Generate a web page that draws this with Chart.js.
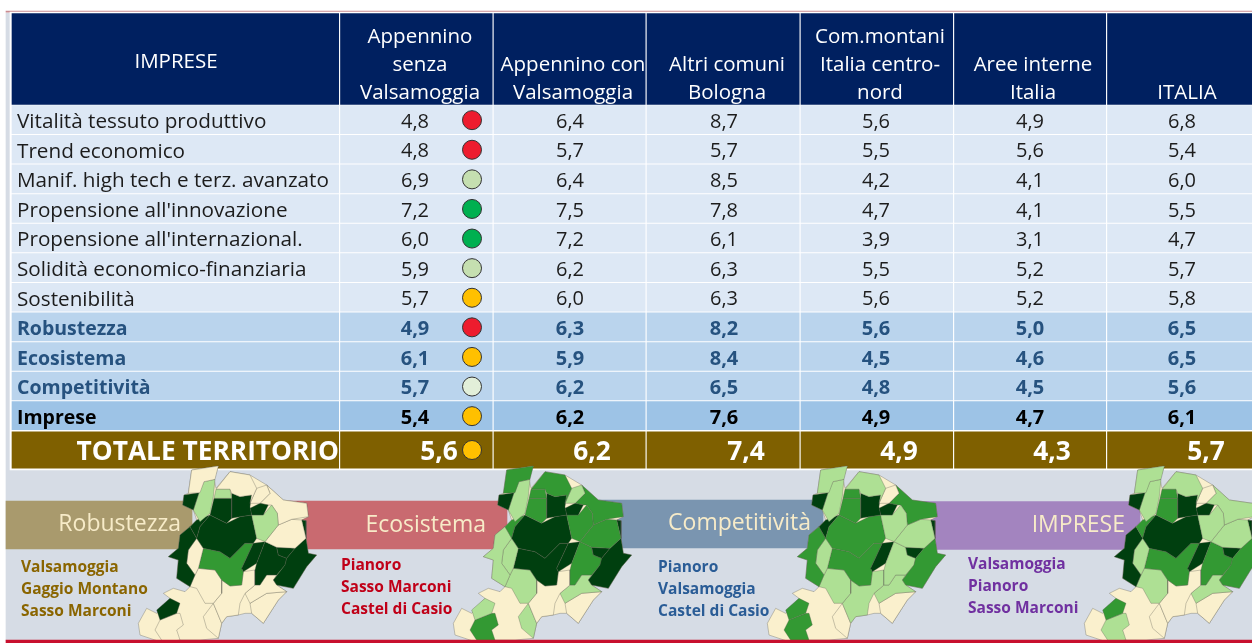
<!DOCTYPE html>
<html lang="it">
<head>
<meta charset="utf-8">
<title>Imprese</title>
<script src="https://cdn.jsdelivr.net/npm/chart.js@4"></script>
<style>
  html, body { margin: 0; padding: 0; background: #fff; }
  canvas { display: block; }
</style>
</head>
<body>
<canvas id="board" width="1252" height="643"></canvas>
<script>
// --- data ---
const corner = 'IMPRESE';
const columns = [
  ['Appennino', 'senza', 'Valsamoggia'],
  ['Appennino con', 'Valsamoggia'],
  ['Altri comuni', 'Bologna'],
  ['Com.montani', 'Italia centro-', 'nord'],
  ['Aree interne', 'Italia'],
  ['ITALIA'],
];
const rows = [
  'Vitalità tessuto produttivo', 'Trend economico', 'Manif. high tech e terz. avanzato',
  "Propensione all'innovazione", "Propensione all'internazional.", 'Solidità economico-finanziaria',
  'Sostenibilità', 'Robustezza', 'Ecosistema', 'Competitività', 'Imprese', 'TOTALE TERRITORIO',
];
const appenninoSenza = [4.8, 4.8, 6.9, 7.2, 6.0, 5.9, 5.7, 4.9, 6.1, 5.7, 5.4, 5.6];
const appenninoCon   = [6.4, 5.7, 6.4, 7.5, 7.2, 6.2, 6.0, 6.3, 5.9, 6.2, 6.2, 6.2];
const altriBologna   = [8.7, 5.7, 8.5, 7.8, 6.1, 6.3, 6.3, 8.2, 8.4, 6.5, 7.6, 7.4];
const comMontani     = [5.6, 5.5, 4.2, 4.7, 3.9, 5.5, 5.6, 5.6, 4.5, 4.8, 4.9, 4.9];
const areeInterne    = [4.9, 5.6, 4.1, 4.1, 3.1, 5.2, 5.2, 5.0, 4.6, 4.5, 4.7, 4.3];
const italia         = [6.8, 5.4, 6.0, 5.5, 4.7, 5.7, 5.8, 6.5, 6.5, 5.6, 6.1, 5.7];
const series = [appenninoSenza, appenninoCon, altriBologna, comMontani, areeInterne, italia];
const signals = ['red', 'red', 'sage', 'green', 'green', 'sage', 'amber', 'red', 'amber', 'pale', 'amber', 'amber'];

const bannerTitles = ['Robustezza', 'Ecosistema', 'Competitività', 'IMPRESE'];
const bannerLists = [
  ['Valsamoggia', 'Gaggio Montano', 'Sasso Marconi'],
  ['Pianoro', 'Sasso Marconi', 'Castel di Casio'],
  ['Pianoro', 'Valsamoggia', 'Castel di Casio'],
  ['Valsamoggia', 'Pianoro', 'Sasso Marconi'],
];

// map regions: outline, tone per map (d m l c = dark to cream)
const mapOutline = [575,30, 655,18, 642,58, 648,85, 690,35, 750,45, 800,75, 850,120, 920,130, 925,170, 905,180, 918,182, 918,235, 925,280, 950,285, 920,320, 880,385, 830,375, 860,395, 835,420, 790,490, 755,460, 735,460, 715,465, 680,470, 665,490, 655,535, 600,540, 540,540, 490,548, 465,540, 420,525, 415,490, 440,445, 470,460, 510,415, 490,400, 520,385, 555,395, 570,380, 530,355, 535,300, 505,290, 535,265, 540,225, 570,200, 590,180, 580,150, 548,135, 552,105, 565,100];
const mapRegions = [
  ['cmll', [575,30, 655,18, 645,58, 612,65, 600,98, 565,100]],
  ['dddd', [552,105, 597,98, 580,150, 548,135]],
  ['llll', [612,65, 645,58, 640,110, 630,160, 600,185, 580,150, 597,98]],
  ['lmmm', [648,88, 690,88, 695,115, 642,115]],
  ['cmll', [648,88, 690,35, 750,45, 770,85, 750,130, 755,105, 720,110, 695,100, 690,88]],
  ['clcc', [770,85, 800,75, 810,100, 780,130, 750,130]],
  ['dmmm', [642,115, 695,115, 695,175, 680,190, 630,165]],
  ['dddd', [695,100, 720,110, 755,105, 750,140, 755,165, 720,170, 695,175]],
  ['dddd', [750,145, 780,130, 805,135, 790,165, 755,165]],
  ['lmll', [755,165, 790,165, 815,135, 832,160, 835,195, 795,245, 770,235]],
  ['cmml', [800,75, 850,120, 920,130, 925,170, 875,178, 835,195, 832,160, 815,135, 805,135, 780,130, 810,100]],
  ['cmll', [835,195, 875,178, 905,180, 918,235, 885,265, 830,262, 795,245]],
  ['dddd', [905,180, 918,182, 918,235]],
  ['ddmm', [885,265, 918,235, 925,280, 950,285, 920,320, 880,385, 830,375, 820,360, 855,315, 860,295]],
  ['dddd', [830,262, 885,265, 860,295, 835,285]],
  ['dmlm', [795,245, 830,262, 835,285, 860,295, 855,315, 830,345, 800,345, 780,375, 765,375, 765,330, 770,310]],
  ['dddd', [760,250, 795,245, 770,310, 730,335, 725,325]],
  ['llll', [845,290, 860,295, 855,330, 830,345]],
  ['ddmd', [630,165, 680,190, 720,170, 755,165, 770,235, 760,250, 735,250, 690,295, 660,275, 635,270, 610,265, 590,235, 600,200]],
  ['dmdm', [570,200, 590,180, 630,165, 600,200, 590,235]],
  ['dlmd', [540,225, 570,200, 590,235, 565,270, 560,310, 585,345, 570,380, 530,355, 535,300, 505,290, 535,265]],
  ['clll', [590,235, 610,265, 595,325, 585,345, 560,310, 565,270]],
  ['mdmm', [610,265, 635,270, 660,275, 690,295, 735,250, 760,250, 725,325, 730,335, 725,375, 690,378, 665,360, 645,330, 595,325]],
  ['clll', [570,380, 585,345, 595,325, 645,330, 665,360, 665,400, 640,430, 615,430, 590,385]],
  ['cclc', [665,360, 690,378, 725,375, 730,335, 765,330, 765,375, 735,400, 720,430, 715,465, 680,470, 665,490, 640,430, 665,400]],
  ['clll', [765,375, 780,375, 800,345, 830,345, 820,360, 830,375, 860,395, 800,400, 750,430, 735,400]],
  ['cccc', [750,430, 800,400, 860,395, 835,420, 790,490, 755,460]],
  ['dlmm', [470,450, 510,415, 540,430, 530,460, 480,480]],
  ['cmml', [465,510, 480,480, 530,460, 540,460, 550,495, 530,510, 540,540, 490,548]],
  ['clcc', [610,470, 640,430, 665,490, 655,535, 620,505]],
];

// --- layout, in canvas units ---
const colEdges = [12, 340.5, 494, 647, 801, 954.5, 1107.5, 1254];
const headerCentres = [420, 573, 727, 880, 1033, 1187];
const valueCentres = [415, 570, 724, 876, 1030, 1182];
const totalCentres = [439, 592, 746, 899, 1052, 1206];
const dotX = 472;
const rowTop = 105.7, rowPitch = 29.6, rowGap = 1.7;
const rowCentre = i => rowTop + rowPitch * i + (rowPitch - rowGap) / 2;
const totalCentre = 450, totalHeight = 36.5;
const headerCentre = 59, headerHeight = 91;
const rowFills = i => i < 7 ? '#dde8f5' : i < 10 ? '#bad4ed' : '#9dc3e6';
const rowInk = i => i < 7 ? '#1c1c1c' : i < 10 ? '#26527f' : '#000';
const signalFill = { red: '#ed1c2e', sage: '#c5dfb0', green: '#00b050', amber: '#ffc000', pale: '#e2efd9' };
const tones = { d: '#003f0f', m: '#339933', l: '#aee094', c: '#faf0cd' };
const bannerSpans = [[6, 192, 525, '#a99a6d'], [283, 507, 525, '#c96a70'], [597, 823, 524, '#7a95b0'], [914, 1140, 525.5, '#a384bf']];
const bannerText = [[181, 524], [486, 525], [811, 523], [1125, 525]];
const listStart = [[21, 568, '#8a6500'], [341, 566, '#c00018'], [658, 567.5, '#2a5c96'], [968, 565, '#7030a0']];
const mapShift = [0, 315, 629, 946];
const FONT = '"Open Sans", "Noto Sans", sans-serif';

const bar = (points, color, thickness, order) => ({
  type: 'bar', indexAxis: 'y', stack: 'cells', data: points, backgroundColor: color,
  barThickness: thickness, borderWidth: 0, order,
});
const toPoints = (flat, dx) => {
  const pts = [];
  for (let i = 0; i < flat.length; i += 2) pts.push({ x: flat[i] / 3 + dx, y: flat[i + 1] / 3 + 460 });
  pts.push(pts[0]);
  return pts;
};
const poly = (flat, dx, color, order) => ({
  type: 'scatter', showLine: true, fill: 'shape', tension: 0, data: toPoints(flat, dx),
  backgroundColor: color, borderColor: 'rgba(90,90,80,.55)', borderWidth: 0.6, pointRadius: 0, order,
});

const colSpans = colEdges.slice(0, -1).map((a, i) => [a, colEdges[i + 1] - 1.8]);
const rowCells = y => colSpans.map(s => ({ x: s, y }));

const datasets = [
  bar([{ x: [6, 1252], y: 327 }], '#d6dce5', 628, 90),
  bar([{ x: [6, 1252], y: 11.7 }], '#c98b90', 1, 85),
  bar([{ x: [10, 1252], y: 241 }], '#ffffff', 458, 80),
  bar([{ x: [6, 1252], y: 641.5 }], '#c8102e', 3, 5),
  bar(rowCells(headerCentre), '#002060', headerHeight, 70),
  bar(rowCells(totalCentre), '#7f6000', totalHeight, 70),
];
rows.slice(0, 11).forEach((_, i) => datasets.push(bar(rowCells(rowCentre(i)), rowFills(i), rowPitch - rowGap, 70)));
bannerSpans.forEach(b => datasets.push(bar([{ x: [b[0], b[1]], y: b[2] }], b[3], 48, 60)));
mapShift.forEach((dx, m) => {
  datasets.push(poly(mapOutline, dx, tones.c, 50));
  mapRegions.forEach(r => datasets.push(poly(r[1], dx, tones[r[0][m]], 40)));
});
datasets.push({
  type: 'scatter', order: 10,
  data: signals.map((_, i) => ({ x: dotX, y: i === 11 ? totalCentre : rowCentre(i) + 0.5 })),
  pointRadius: 9.5, pointBackgroundColor: signals.map(s => signalFill[s]),
  pointBorderColor: '#333', pointBorderWidth: 1,
});

const fmt = v => v.toFixed(1).replace('.', ',');

// text goes on after the marks, positioned through the scales
const tableText = {
  id: 'tableText',
  afterDatasetsDraw(chart) {
    const { ctx, scales: { x, y } } = chart;
    const put = (str, px, py, font, color, align) => {
      ctx.font = font + ' ' + FONT;
      ctx.fillStyle = color;
      ctx.textAlign = align || 'center';
      ctx.textBaseline = 'middle';
      ctx.fillText(str, x.getPixelForValue(px), y.getPixelForValue(py));
    };
    ctx.save();
    put(corner, 176, 62, '20.5px', '#fff');
    columns.forEach((lines, c) => {
      lines.forEach((line, l) => {
        put(line, headerCentres[c], 93 - 28 * (lines.length - 1 - l), '20.5px', '#fff');
      });
    });
    rows.slice(0, 11).forEach((label, i) => {
      const bold = i >= 7;
      put(label, 17, rowCentre(i) + 2.5, bold ? 'bold 19.5px' : '20.7px', rowInk(i), 'left');
      series.forEach((s, c) => {
        put(fmt(s[i]), valueCentres[c], rowCentre(i) + 2.5, (bold ? 'bold ' : '') + '20px', rowInk(i));
      });
    });
    put(rows[11], 339, totalCentre + 3, 'bold 26.3px', '#fff', 'right');
    series.forEach((s, c) => put(fmt(s[11]), totalCentres[c], totalCentre + 3, 'bold 26.3px', '#fff'));
    bannerTitles.forEach((t, b) => put(t, bannerText[b][0], bannerText[b][1], '23px', '#f7ebc8', 'right'));
    bannerLists.forEach((list, b) => {
      list.forEach((t, l) => put(t, listStart[b][0], listStart[b][1] + 22 * l, 'bold 15.5px', listStart[b][2], 'left'));
    });
    ctx.restore();
  },
};

new Chart(document.getElementById('board'), {
  type: 'scatter',
  data: { datasets },
  options: {
    responsive: false,
    animation: false,
    events: [],
    layout: { padding: 0, autoPadding: false },
    plugins: { legend: { display: false }, tooltip: { enabled: false } },
    scales: {
      x: { type: 'linear', min: 0, max: 1252, display: false, offset: false, stacked: false, beginAtZero: false },
      y: { type: 'linear', min: 0, max: 643, reverse: true, display: false, offset: false },
    },
  },
  plugins: [tableText],
});
</script>
</body>
</html>
